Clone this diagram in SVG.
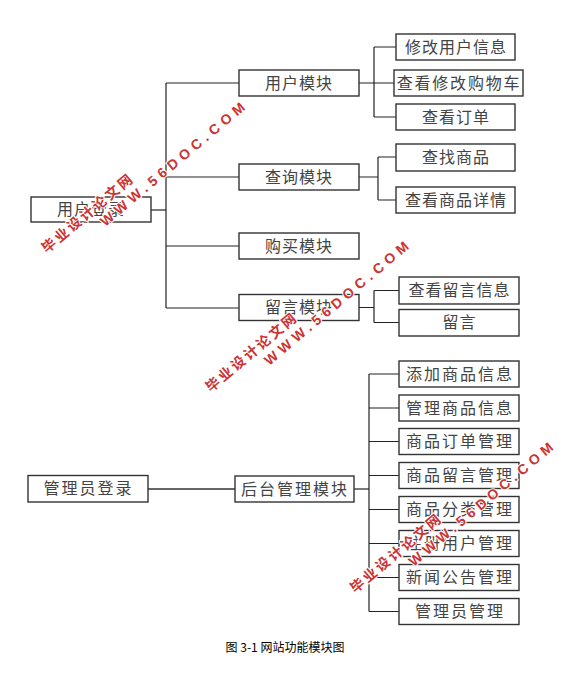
<svg xmlns="http://www.w3.org/2000/svg" width="585" height="676" viewBox="0 0 585 676">
<style>
.box{fill:#fff;stroke:#333;stroke-width:1.4}
.lbl{font-family:"Noto Sans CJK SC","Liberation Sans",sans-serif;font-size:16px;fill:#444;text-anchor:middle;letter-spacing:1px}
.ln{fill:none;stroke:#222;stroke-width:1.2}
.wm1{font-family:"Noto Sans CJK SC",sans-serif;font-size:14px;font-weight:bold;fill:#cc3333;letter-spacing:2.5px;stroke:#fff;stroke-width:2;paint-order:stroke}
.wm2{font-family:"Liberation Sans",sans-serif;font-size:14px;font-weight:bold;fill:#cc3333;letter-spacing:4.8px;stroke:#fff;stroke-width:2;paint-order:stroke}
.cap{font-family:"Noto Sans CJK SC","Liberation Sans",sans-serif;font-size:12px;fill:#000;text-anchor:middle}
</style>
<rect width="585" height="676" fill="#fff"/>
<g id="connectors">
<path class="ln" d="M166,83 V308 M166,83 H239 M166,177 H239 M166,246 H239 M166,308 H239"/>
<path class="ln" stroke-width="2" d="M151,210 H166"/>
<path class="ln" d="M359,83 H374 M374,47 V117 M374,47 H396 M374,83 H394 M374,117 H396"/>
<path class="ln" d="M359,177 H378 M378,157 V200 M378,157 H396 M378,200 H396"/>
<path class="ln" d="M359,307.5 H374 M374,290.5 V322.5 M374,290.5 H399 M374,322.5 H399"/>
<path class="ln" style="stroke:#666;stroke-width:1.8" d="M148,489 H235"/>
<path class="ln" stroke-width="2.2" d="M354,489 H369"/>
<path class="ln" stroke-width="1.5" d="M369,374 V611.5"/>
<path class="ln" d="M369,374 H399 M369,408 H399 M369,441.5 H399 M369,475.5 H399 M369,509.5 H399 M369,543.5 H399 M369,577.5 H399 M369,611.5 H399"/>
</g>
<g id="n_user_login"><rect class="box" x="31" y="197" width="120" height="25"/><text class="lbl" x="91" y="215">用户登录</text></g>
<g id="n_user_module"><rect class="box" x="239" y="70" width="120" height="26"/><text class="lbl" x="299" y="88.5">用户模块</text></g>
<g id="n_query_module"><rect class="box" x="239" y="164" width="120" height="26"/><text class="lbl" x="299" y="182.5">查询模块</text></g>
<g id="n_buy_module"><rect class="box" x="239" y="233" width="120" height="26"/><text class="lbl" x="299" y="251.5">购买模块</text></g>
<g id="n_msg_module"><rect class="box" x="239" y="294.5" width="120" height="26"/><text class="lbl" x="299" y="313">留言模块</text></g>
<g id="n_edit_user"><rect class="box" x="396" y="34" width="119" height="26"/><text class="lbl" x="456" y="52.5">修改用户信息</text></g>
<g id="n_cart"><rect class="box" x="394" y="70" width="129" height="26"/><text class="lbl" x="459" y="88.5" style="letter-spacing:1.8px">查看修改购物车</text></g>
<g id="n_order"><rect class="box" x="396" y="104" width="119" height="26"/><text class="lbl" x="456" y="122.5">查看订单</text></g>
<g id="n_find"><rect class="box" x="396" y="144" width="119" height="27"/><text class="lbl" x="456" y="163">查找商品</text></g>
<g id="n_detail"><rect class="box" x="396" y="187" width="119" height="26"/><text class="lbl" x="456" y="205.5">查看商品详情</text></g>
<g id="n_view_msg"><rect class="box" x="399" y="277" width="120" height="27"/><text class="lbl" x="459.5" y="296">查看留言信息</text></g>
<g id="n_msg"><rect class="box" x="399" y="309.5" width="120" height="26.5"/><text class="lbl" x="459.5" y="328">留言</text></g>
<g id="n_admin_login"><rect class="box" x="28" y="475.5" width="120" height="26.5"/><text class="lbl" x="88.5" y="494" style="letter-spacing:2px">管理员登录</text></g>
<g id="n_backend"><rect class="box" x="235" y="476" width="119" height="26"/><text class="lbl" x="295" y="494.5" style="letter-spacing:2px">后台管理模块</text></g>
<g id="n_add_goods"><rect class="box" x="399" y="361" width="120" height="26"/><text class="lbl" x="460" y="379.5" style="letter-spacing:2px">添加商品信息</text></g>
<g id="n_manage_goods"><rect class="box" x="399" y="395" width="120" height="26"/><text class="lbl" x="460" y="413.5" style="letter-spacing:2px">管理商品信息</text></g>
<g id="n_order_manage"><rect class="box" x="399" y="428.5" width="120" height="26"/><text class="lbl" x="460" y="447" style="letter-spacing:2px">商品订单管理</text></g>
<g id="n_msg_manage"><rect class="box" x="399" y="462.5" width="120" height="26"/><text class="lbl" x="460" y="481" style="letter-spacing:2px">商品留言管理</text></g>
<g id="n_cat_manage"><rect class="box" x="399" y="496.5" width="120" height="26"/><text class="lbl" x="460" y="515" style="letter-spacing:2px">商品分类管理</text></g>
<g id="n_user_manage"><rect class="box" x="399" y="530.5" width="120" height="26"/><text class="lbl" x="460" y="549" style="letter-spacing:2px">注册用户管理</text></g>
<g id="n_news_manage"><rect class="box" x="399" y="564.5" width="120" height="26"/><text class="lbl" x="460" y="583" style="letter-spacing:2px">新闻公告管理</text></g>
<g id="n_admin_manage"><rect class="box" x="399" y="598.5" width="120" height="26"/><text class="lbl" x="460" y="617" style="letter-spacing:2px">管理员管理</text></g>
<text class="cap" x="285" y="652">图 3-1 网站功能模块图</text>
<g id="watermarks">
<g transform="translate(43.6,250) rotate(-40)"><text class="wm1" x="0" y="5">毕业设计论文网</text><text class="wm2" x="62" y="22">WWW.56DOC.COM</text></g>
<g transform="translate(207.5,389) rotate(-40)"><text class="wm1" x="0" y="5">毕业设计论文网</text><text class="wm2" x="62" y="22">WWW.56DOC.COM</text></g>
<g transform="translate(352,590) rotate(-40)"><text class="wm1" x="0" y="5">毕业设计论文网</text><text class="wm2" x="62" y="22">WWW.56DOC.COM</text></g>
</g>
</svg>
